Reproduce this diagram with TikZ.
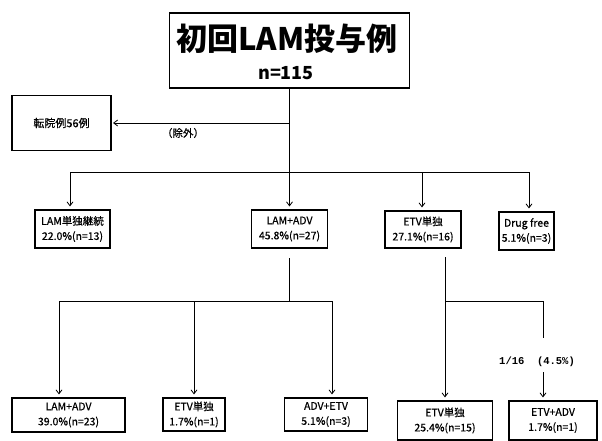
\documentclass[tikz,border=0pt]{standalone}
\usepackage{fontspec}
\setmainfont{Noto Sans CJK JP}
\newfontfamily\medfont{Noto Sans CJK JP}[FakeBold=0.6]
\newfontfamily\monof{Liberation Mono}
\usetikzlibrary{arrows.meta}
\begin{document}
\begin{tikzpicture}[x=1pt,y=-1pt,
  line/.style={line width=0.8pt},
  arr/.style={line width=0.8pt,-{Straight Barb[length=4pt,width=6pt]},shorten >=3pt},
  box/.style={draw,line width=1.1pt,inner sep=0pt,align=center,font=\medfont\fontsize{10.5}{15}\selectfont},
  txt/.style={inner sep=0pt,font=\medfont\fontsize{10.5}{13}\selectfont},
]
\useasboundingbox[fill=white] (0,0) rectangle (602,441);
% title
\node[draw,line width=1.3pt,minimum width=240pt,minimum height=75pt,inner sep=0pt] (top) at (289.5,50.5) {};
\node[inner sep=0pt,font=\fontsize{31}{36}\selectfont\bfseries] (t1) at (287,39) {初回LAM投与例};
\node[inner sep=0pt,font=\fontsize{18}{22}\selectfont\bfseries] (t2) at (286,73) {n=115};
% excluded
\node[box,minimum width=99pt,minimum height=55pt,font=\medfont\fontsize{11}{13}\selectfont] (trans) at (61.5,123) {転院例56例};
\draw[arr,shorten >=1.5pt] (top.south |- trans.east) -- (trans.east);
\node[txt] (excl) at (183,133) {（除外）};
% level 1
\node[box,minimum width=75pt,minimum height=38pt] (l1a) at (72.5,229) {LAM単独継続\\22.0\%(n=13)};
\node[box,minimum width=76pt,minimum height=38pt] (l1b) at (289.5,229) {LAM+ADV\\45.8\%(n=27)};
\node[box,minimum width=76pt,minimum height=37pt] (l1c) at (423,229.5) {ETV単独\\27.1\%(n=16)};
\node[box,minimum width=55pt,minimum height=38pt] (l1d) at (526.5,231) {Drug free\\5.1\%(n=3)};
\draw[arr] (top.south) -- (l1b.north);
\coordinate (h0L) at (70,172);
\coordinate (h0C) at (422,172);
\coordinate (h0R) at (529,172);
\draw[line] (h0L) -- (h0R);
\draw[arr] (h0L) -- (h0L |- l1a.north);
\draw[arr] (h0C) -- (h0C |- l1c.north);
\draw[arr] (h0R) -- (h0R |- l1d.north);
% level 2
\node[box,minimum width=113pt,minimum height=34pt] (l2a) at (68.5,415) {LAM+ADV\\39.0\%(n=23)};
\node[box,minimum width=62pt,minimum height=33pt] (l2b) at (194,414.5) {ETV単独\\1.7\%(n=1)};
\node[box,minimum width=83pt,minimum height=33pt] (l2c) at (326,414.5) {ADV+ETV\\5.1\%(n=3)};
\node[box,minimum width=95pt,minimum height=39pt] (l2d) at (445,420.5) {ETV単独\\25.4\%(n=15)};
\node[box,minimum width=88pt,minimum height=39pt] (l2e) at (553,420.5) {ETV+ADV\\1.7\%(n=1)};
% LAM+ADV branch
\coordinate (b1top) at (289.5,258);
\coordinate (b1) at (289.5,301);
\coordinate (b1L) at (59,301);
\coordinate (b1M) at (194,301);
\coordinate (b1R) at (332,301);
\draw[line] (b1top) -- (b1);
\draw[line] (b1L) -- (b1R);
\draw[arr] (b1L) -- (b1L |- l2a.north);
\draw[arr] (b1M) -- (b1M |- l2b.north);
\draw[arr] (b1R) -- (b1R |- l2c.north);
% ETV branch
\coordinate (b2top) at (445,257);
\coordinate (b2) at (445,301);
\coordinate (b2R) at (543,301);
\coordinate (c1) at (543,338);
\coordinate (c2) at (543,372);
\draw[arr] (b2top) -- (b2top |- l2d.north);
\draw[line] (b2) -- (b2R) -- (c1);
\node[inner sep=0pt,font=\monof\fontsize{10.5}{12}\selectfont\bfseries] (ratio) at (537,362) {1/16\ \ (4.5\%)};
\draw[arr] (c2) -- (c2 |- l2e.north);
\end{tikzpicture}
\end{document}
